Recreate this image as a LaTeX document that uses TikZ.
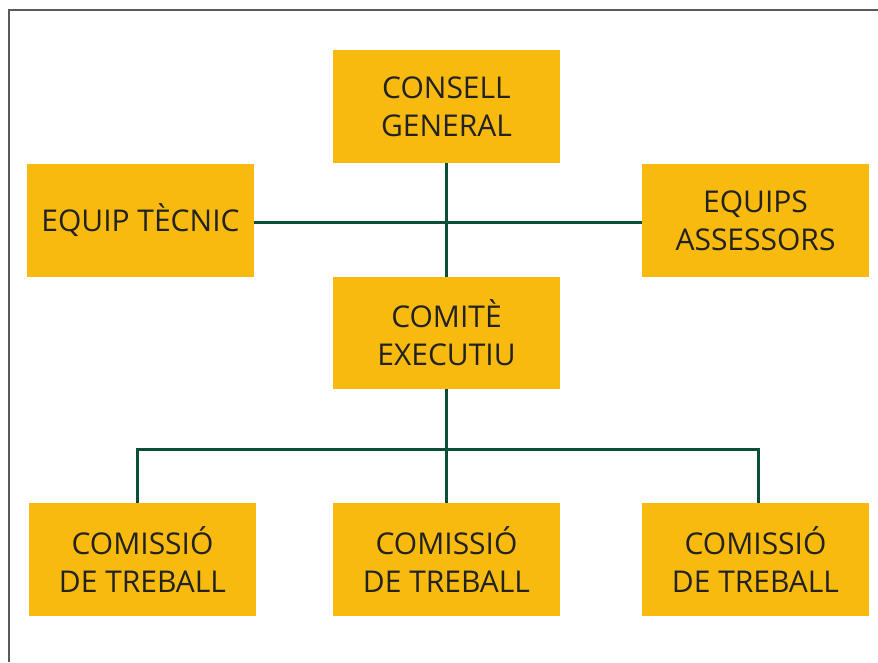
\documentclass[tikz,border=0pt]{standalone}
\usepackage{fontspec}
\setmainfont{Open Sans}
\definecolor{boxyellow}{HTML}{F9BA0F}
\definecolor{linegreen}{HTML}{0B4E39}
\definecolor{framegray}{HTML}{5A5A5A}
\definecolor{textdark}{HTML}{222222}
\begin{document}
\begin{tikzpicture}[x=1pt,y=-1pt,
  orgbox/.style={fill=boxyellow,draw=none,minimum width=227pt,minimum height=113pt,inner sep=0pt,align=center,text=textdark,font=\fontsize{30}{38}\selectfont},
  conn/.style={draw=linegreen,line width=3pt}]
\useasboundingbox (0,0) rectangle (878,662);
\draw[framegray,line width=2.5pt] (9,662) -- (9,10) -- (878,10);
\node[orgbox] (cg) at (446.5,106.5) {CONSELL\\GENERAL};
\node[orgbox] (et) at (140.5,220.5) {EQUIP TÈCNIC};
\node[orgbox] (ea) at (755.5,220.5) {EQUIPS\\ASSESSORS};
\node[orgbox,minimum height=112pt] (ce) at (446.5,333) {COMITÈ\\EXECUTIU};
\node[orgbox] (b1) at (142.5,559.5) {COMISSIÓ\\DE TREBALL};
\node[orgbox] (b2) at (446.5,559.5) {COMISSIÓ\\DE TREBALL};
\node[orgbox] (b3) at (755.5,559.5) {COMISSIÓ\\DE TREBALL};
\coordinate (j1) at (137.5,449);
\coordinate (j3) at (758.5,449);
\draw[conn] (cg.south) -- (ce.north);
\draw[conn] (et.east |- 0,222) -- (ea.west |- 0,222);
\draw[conn] (ce.south) -- (b2.north);
\draw[conn,line join=miter] (j1 |- b1.north) -- (j1) -- (j3) -- (j3 |- b3.north);
\end{tikzpicture}
\end{document}
